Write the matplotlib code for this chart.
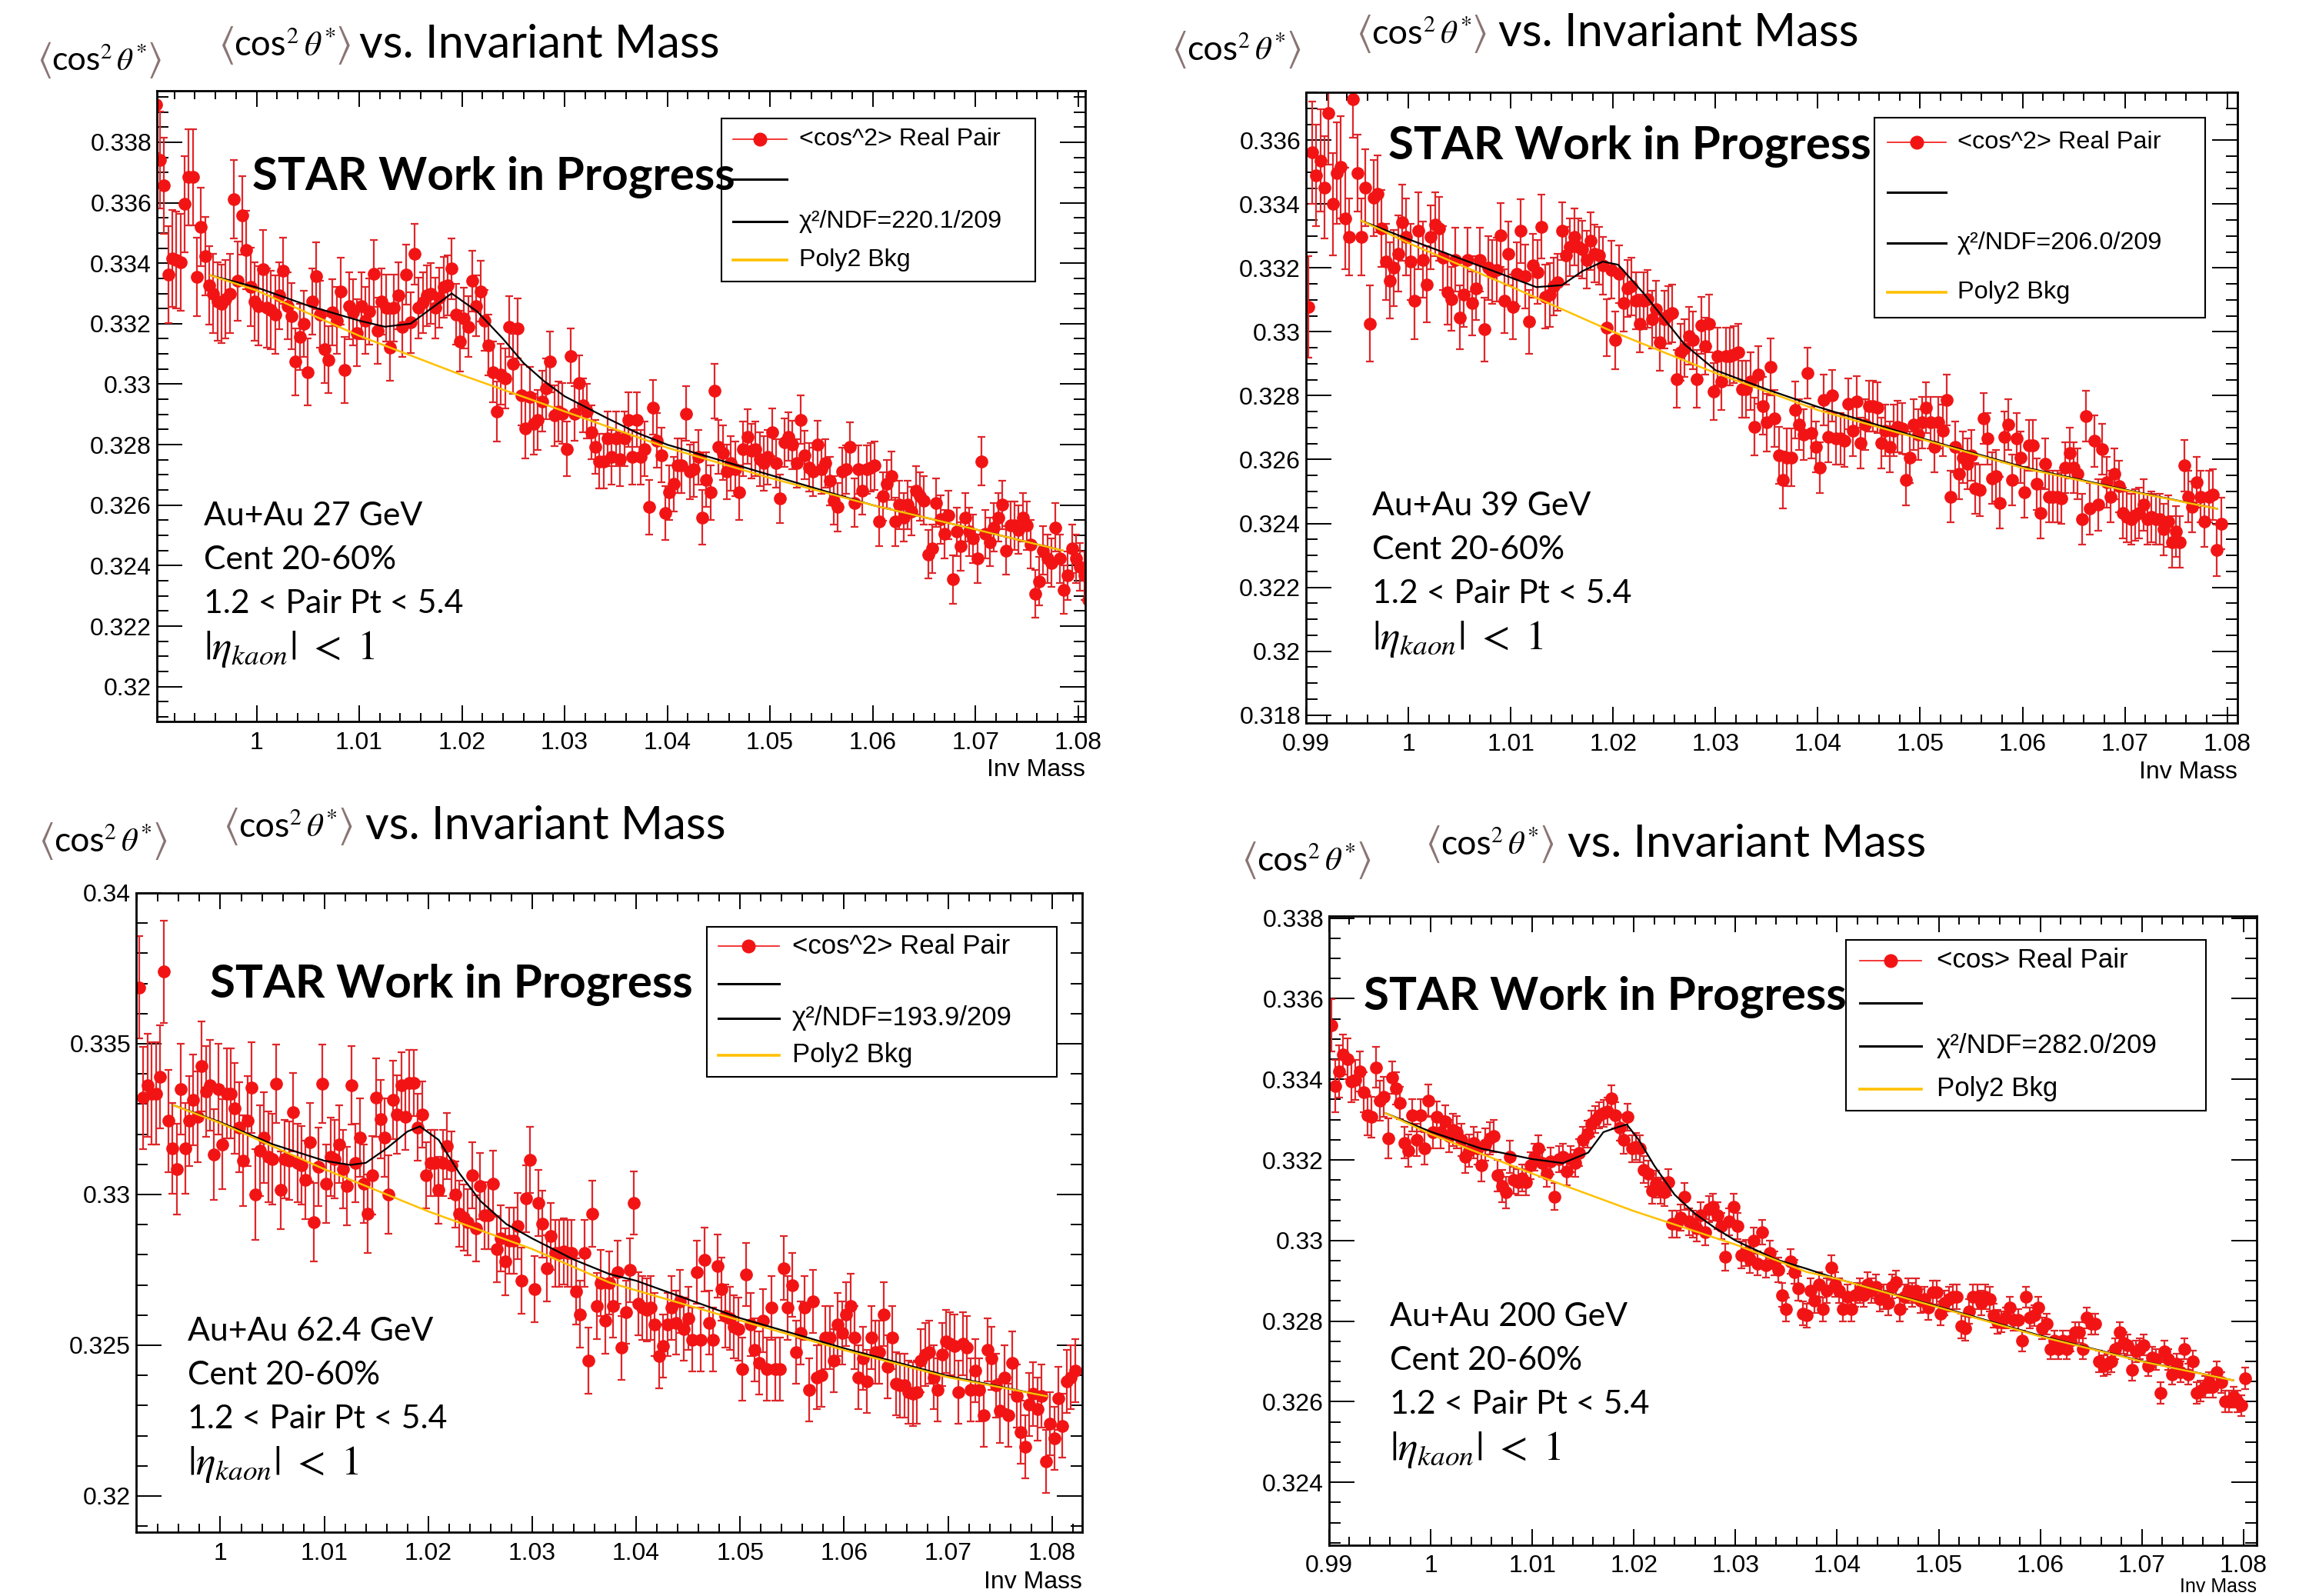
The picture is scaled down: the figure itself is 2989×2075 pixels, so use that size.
import numpy as np
import matplotlib
matplotlib.use("Agg")
import matplotlib.pyplot as plt
from matplotlib.ticker import FixedLocator, MultipleLocator, FuncFormatter
from matplotlib.patches import Rectangle
from matplotlib.lines import Line2D

plt.rcParams['mathtext.fontset'] = 'stix'
plt.rcParams['font.family'] = ['Liberation Sans', 'DejaVu Sans']

# ------------------------------------------------------------------ data
BIN_W = 0.0004

# ---- Au+Au 27 GeV
x0_27 = 0.9902
vals_27 = [
    0.33923, 0.33741, 0.33656, 0.33362, 0.33416, 0.33410, 0.33403, 0.33595, 0.33684, 0.33684,
    0.33355, 0.33519, 0.33423, 0.33327, 0.33300, 0.33273, 0.33266, 0.33280, 0.33300, 0.33611,
    0.33341, 0.33558, 0.33444, 0.33321, 0.33273, 0.33259, 0.33379, 0.33252, 0.33245, 0.33231,
    0.33293, 0.33375, 0.33259, 0.33225, 0.33074, 0.33156, 0.33200, 0.33040, 0.33273, 0.33358,
    0.33231, 0.33115, 0.33081, 0.33238, 0.33211, 0.33307, 0.33047, 0.33259, 0.33238, 0.33170,
    0.33259, 0.33211, 0.33240, 0.33366, 0.33177, 0.33273, 0.33252, 0.33122, 0.33252, 0.33293,
    0.33190, 0.33362, 0.33204, 0.33430, 0.33252, 0.33270, 0.33293, 0.33300, 0.33252, 0.33286,
    0.33321, 0.33327, 0.33382, 0.33231, 0.33142, 0.33218, 0.33190, 0.33341, 0.33259, 0.33307,
    0.33211, 0.33129, 0.33040, 0.32910, 0.33033, 0.33019, 0.33190, 0.33067, 0.33184, 0.32964,
    0.32855, 0.32957, 0.32868, 0.32882, 0.32944, 0.32985, 0.33074, 0.32896, 0.32910, 0.32903,
    0.32786, 0.33094, 0.32903, 0.33005, 0.32930, 0.32910, 0.32841, 0.32793, 0.32745, 0.32745,
    0.32820, 0.32759, 0.32820, 0.32752, 0.32820, 0.32882, 0.32759,
    0.32882, 0.32759, 0.32786, 0.32594, 0.32923, 0.32814, 0.32766, 0.32574, 0.32642, 0.32670,
    0.32731, 0.32731, 0.32903, 0.32711, 0.32718, 0.32759, 0.32560, 0.32684, 0.32642, 0.32978,
    0.32793, 0.32773, 0.32711, 0.32739, 0.32720, 0.32642, 0.32786, 0.32827, 0.32779, 0.32786,
    0.32752, 0.32739, 0.32759, 0.32841, 0.32739, 0.32622, 0.32807, 0.32827, 0.32800, 0.32739,
    0.32882, 0.32766, 0.32725, 0.32711, 0.32800, 0.32718, 0.32739, 0.32680, 0.32615, 0.32594,
    0.32711, 0.32718, 0.32793, 0.32608, 0.32718, 0.32649, 0.32718, 0.32725, 0.32731, 0.32546,
    0.32629, 0.32670, 0.32697, 0.32546, 0.32601, 0.32560, 0.32601, 0.32580, 0.32649, 0.32629,
    0.32615, 0.32437, 0.32457, 0.32608, 0.32553, 0.32505, 0.32567, 0.32355, 0.32512, 0.32464,
    0.32560, 0.32512, 0.32490, 0.32423, 0.32745, 0.32505, 0.32478, 0.32526, 0.32560, 0.32601,
    0.32450, 0.32533, 0.32533, 0.32519, 0.32560, 0.32533, 0.32470, 0.32307, 0.32348, 0.32450,
    0.32423, 0.32409, 0.32526, 0.32423, 0.32321, 0.32368, 0.32457, 0.32423, 0.32396, 0.32368,
    0.32286]
err_lv_27 = [0.0016, 0.0013, 0.0011, 0.0010, 0.0009, 0.0008]
err_n_27 = [10, 20, 30, 40, 50, 90]
fitx_27 = [0.9955, 1.000, 1.005, 1.010, 1.0125, 1.015, 1.017, 1.019, 1.0215, 1.024,
           1.026, 1.028, 1.030, 1.034, 1.037, 1.040, 1.050, 1.060, 1.070, 1.0785]
fit_27 = [0.3336, 0.3332, 0.3326, 0.3321, 0.3319, 0.3320, 0.3325, 0.3330, 0.3324, 0.3315,
          0.3307, 0.3301, 0.3296, 0.3289, 0.3284, 0.3280, 0.3270, 0.3260, 0.3252, 0.3245]
bkgx_27 = [0.9955, 1.000, 1.010, 1.020, 1.030, 1.040, 1.050, 1.060, 1.070, 1.0785]
bkg_27 = [0.3336, 0.3331, 0.3316, 0.3303, 0.3291, 0.3279, 0.3269, 0.3260, 0.3252, 0.3245]

# ---- Au+Au 39 GeV
x0_39 = 0.9902
vals_39 = [
    0.33078, 0.33561, 0.33490, 0.33536, 0.33452, 0.33684, 0.33400, 0.33497, 0.33516, 0.33355,
    0.33297, 0.33729, 0.33497, 0.33297, 0.33452, 0.33026, 0.33419, 0.33432, 0.33323, 0.33219,
    0.33161, 0.33200, 0.33245, 0.33342, 0.33297, 0.33219, 0.33097, 0.33316, 0.33226, 0.33149,
    0.33297, 0.33336, 0.33323, 0.33232, 0.33123, 0.33103, 0.33226, 0.33045, 0.33116, 0.33226,
    0.33090, 0.33136, 0.33226, 0.33007, 0.33200, 0.33187, 0.33194, 0.33303, 0.33097, 0.33245,
    0.33078, 0.33181, 0.33316, 0.33174, 0.33032, 0.33207, 0.33187, 0.33329, 0.33110, 0.33116,
    0.33142, 0.33155, 0.33316, 0.33239, 0.33265, 0.33297, 0.33265, 0.33258, 0.33226, 0.33284,
    0.33245, 0.33239, 0.33207, 0.33013, 0.33194, 0.32974, 0.33181, 0.33090, 0.33136, 0.33142,
    0.33097, 0.33026, 0.33097, 0.33103, 0.33039, 0.33071, 0.32968, 0.33039, 0.33052, 0.33058,
    0.32852, 0.32936, 0.32949, 0.32987, 0.32974, 0.32852, 0.33020, 0.32955, 0.33026, 0.32813,
    0.32923, 0.32845, 0.32923, 0.32923, 0.32929, 0.32936, 0.32820, 0.32820, 0.32845, 0.32703,
    0.32865, 0.32768, 0.32716, 0.32890, 0.32729, 0.32613, 0.32536,
    0.32607, 0.32607, 0.32755, 0.32710, 0.32678, 0.32871, 0.32684, 0.32639, 0.32574, 0.32787,
    0.32671, 0.32800, 0.32665, 0.32665, 0.32658, 0.32774, 0.32691, 0.32781, 0.32652, 0.32710,
    0.32768, 0.32768, 0.32762, 0.32652, 0.32691, 0.32639, 0.32691, 0.32703, 0.32697, 0.32536,
    0.32607, 0.32710, 0.32678, 0.32716, 0.32762, 0.32716, 0.32639, 0.32716, 0.32691, 0.32787,
    0.32484, 0.32639, 0.32555, 0.32607, 0.32587, 0.32613, 0.32510, 0.32504, 0.32729, 0.32665,
    0.32542, 0.32549, 0.32465, 0.32671, 0.32710, 0.32536, 0.32665, 0.32607, 0.32497, 0.32645,
    0.32645, 0.32523, 0.32433, 0.32587, 0.32484, 0.32484, 0.32484, 0.32478, 0.32574, 0.32620,
    0.32574, 0.32555, 0.32413, 0.32736, 0.32446, 0.32658, 0.32458, 0.32633, 0.32529, 0.32484,
    0.32555, 0.32516, 0.32433, 0.32420, 0.32413, 0.32426, 0.32433, 0.32458, 0.32413, 0.32420,
    0.32413, 0.32413, 0.32381, 0.32407, 0.32342, 0.32375, 0.32342, 0.32581, 0.32484, 0.32452,
    0.32529, 0.32484, 0.32407, 0.32484, 0.32491, 0.32316, 0.32400]
err_lv_39 = [0.0016, 0.0012, 0.0010, 0.0009, 0.0008]
err_n_39 = [10, 20, 30, 60, 120]
fitx_39 = [0.9954, 1.000, 1.005, 1.010, 1.0125, 1.015, 1.017, 1.019, 1.0205, 1.023,
           1.025, 1.027, 1.030, 1.035, 1.040, 1.050, 1.060, 1.070, 1.079]
fit_39 = [0.33348, 0.3329, 0.3323, 0.3317, 0.3314, 0.33146, 0.3319, 0.3322, 0.3321, 0.3312,
          0.3304, 0.3296, 0.3288, 0.3282, 0.32765, 0.32668, 0.32577, 0.32506, 0.32446]
bkgx_39 = [0.9954, 1.000, 1.010, 1.020, 1.030, 1.040, 1.050, 1.060, 1.070, 1.079]
bkg_39 = [0.33348, 0.33278, 0.33142, 0.33000, 0.32871, 0.32755, 0.32665, 0.32574, 0.32504, 0.32446]

# ---- Au+Au 62.4 GeV
x0_62 = 0.9922
vals_62 = [
    0.33687, 0.33321, 0.33362, 0.33335, 0.33335, 0.33390, 0.33739, 0.33244, 0.33153, 0.33084,
    0.33349, 0.33153, 0.33244, 0.33314, 0.33258, 0.33425, 0.33342, 0.33362, 0.33132, 0.33349,
    0.33167, 0.33335, 0.33335, 0.33286, 0.33223, 0.33112, 0.33244, 0.33355, 0.33000, 0.33146,
    0.33188, 0.33125, 0.33118, 0.33367, 0.33014, 0.33118, 0.33112, 0.33272, 0.33105, 0.33098,
    0.33049, 0.33174, 0.32909, 0.33091, 0.33367, 0.33035, 0.33125, 0.33118, 0.33167, 0.33084,
    0.33028, 0.33362, 0.33105, 0.33188, 0.33035, 0.32937, 0.33063, 0.33321, 0.33251, 0.33188,
    0.33000, 0.33314, 0.33265, 0.33362, 0.33258, 0.33369, 0.33369, 0.33223, 0.33265, 0.33063,
    0.33105, 0.33105, 0.33014, 0.33105, 0.33160, 0.33098, 0.33000, 0.32937, 0.32923, 0.32909,
    0.33063, 0.32888, 0.33028, 0.32930, 0.32930, 0.33035, 0.32819, 0.32854, 0.32777, 0.32847,
    0.32847, 0.32895, 0.32714, 0.32986, 0.33114, 0.32686, 0.32972, 0.32902, 0.32756, 0.32861,
    0.32805, 0.32805, 0.32812, 0.32805, 0.32805, 0.32679, 0.32603, 0.32805, 0.32449, 0.32937,
    0.32631, 0.32707, 0.32582, 0.32707,
    0.32631, 0.32742, 0.32491, 0.32610, 0.32749, 0.32972, 0.32638, 0.32624, 0.32617, 0.32624,
    0.32568, 0.32463, 0.32498, 0.32568, 0.32624, 0.32575, 0.32645, 0.32554, 0.32589, 0.32519,
    0.32742, 0.32519, 0.32784, 0.32575, 0.32519, 0.32763, 0.32686, 0.32596, 0.32589, 0.32561,
    0.32554, 0.32421, 0.32735, 0.32568, 0.32484, 0.32442, 0.32582, 0.32421, 0.32624, 0.32421,
    0.32421, 0.32756, 0.32624, 0.32700, 0.32477, 0.32540, 0.32624, 0.32352, 0.32645, 0.32394,
    0.32401, 0.32526, 0.32526, 0.32449, 0.32568, 0.32540, 0.32603, 0.32631, 0.32526, 0.32394,
    0.32456, 0.32380, 0.32526, 0.32477, 0.32477, 0.32603, 0.32428, 0.32526, 0.32373, 0.32366,
    0.32366, 0.32345, 0.32338, 0.32345, 0.32449, 0.32470, 0.32477, 0.32394, 0.32352, 0.32470,
    0.32512, 0.32505, 0.32498, 0.32345, 0.32505, 0.32491, 0.32352, 0.32415, 0.32352, 0.32268,
    0.32484, 0.32456, 0.32366, 0.32282, 0.32394, 0.32268, 0.32442, 0.32331, 0.32212, 0.32164,
    0.32303, 0.32338, 0.32289, 0.32331, 0.32115, 0.32240, 0.32192, 0.32324, 0.32233, 0.32380,
    0.32394, 0.32415]
err_lv_62 = [0.0017, 0.0015, 0.0013, 0.0011, 0.00105]
err_n_62 = [8, 25, 30, 50, 130]
fitx_62 = [0.9955, 1.000, 1.005, 1.010, 1.0125, 1.014, 1.016, 1.018, 1.0192, 1.021,
           1.023, 1.025, 1.0275, 1.030, 1.034, 1.0375, 1.040, 1.050, 1.060, 1.070, 1.0795]
fit_62 = [0.33296, 0.3324, 0.33167, 0.33112, 0.33098, 0.33105, 0.33153, 0.33209, 0.33226, 0.33181,
          0.3307, 0.32979, 0.32902, 0.32854, 0.32784, 0.32735, 0.32714, 0.32590, 0.32490, 0.32398, 0.32331]
bkgx_62 = [0.9955, 1.000, 1.010, 1.020, 1.030, 1.0375, 1.050, 1.060, 1.070, 1.0795]
bkg_62 = [0.33296, 0.33237, 0.33084, 0.32944, 0.32819, 0.32707, 0.32582, 0.32484, 0.32394, 0.32331]

# ---- Au+Au 200 GeV
x0_200 = 0.9902
vals_200 = [
    0.33534, 0.33383, 0.33420, 0.33461, 0.33451, 0.33394, 0.33399, 0.33420, 0.33368, 0.33311,
    0.33306, 0.33430, 0.33347, 0.33357, 0.33254, 0.33404, 0.33378, 0.33342, 0.33243, 0.33223,
    0.33311, 0.33249, 0.33311, 0.33228, 0.33347, 0.33269, 0.33306, 0.33269, 0.33295, 0.33259,
    0.33275, 0.33269, 0.33249, 0.33207, 0.33223, 0.33243, 0.33228, 0.33186, 0.33238, 0.33254,
    0.33259, 0.33161, 0.33135, 0.33119, 0.33207, 0.33150, 0.33145, 0.33155, 0.33145, 0.33186,
    0.33207, 0.33228, 0.33192, 0.33166, 0.33197, 0.33109, 0.33202, 0.33207, 0.33171, 0.33202,
    0.33192, 0.33218, 0.33249, 0.33264, 0.33290, 0.33300, 0.33311, 0.33316, 0.33321, 0.33352,
    0.33311, 0.33280, 0.33249, 0.33306, 0.33228, 0.33233, 0.33228, 0.33176, 0.33166, 0.33124,
    0.33140, 0.33124, 0.33119, 0.33145, 0.33041, 0.33041, 0.33057, 0.33109, 0.33047, 0.33041,
    0.33031, 0.33062, 0.33021, 0.33078, 0.33083, 0.33062, 0.33036, 0.32959, 0.33047, 0.33083,
    0.33036, 0.32964, 0.32969, 0.32953, 0.33000, 0.32943, 0.33021, 0.32938, 0.32969, 0.32943,
    0.32927, 0.32865, 0.32829, 0.32948, 0.32922, 0.32881, 0.32819,
    0.32814, 0.32876, 0.32850, 0.32891, 0.32829, 0.32876, 0.32933, 0.32891, 0.32876, 0.32829,
    0.32860, 0.32829, 0.32865, 0.32876, 0.32865, 0.32891, 0.32876, 0.32886, 0.32855, 0.32860,
    0.32845, 0.32886, 0.32896, 0.32829, 0.32860, 0.32876, 0.32865, 0.32876, 0.32850, 0.32855,
    0.32834, 0.32871, 0.32871, 0.32819, 0.32845, 0.32855, 0.32860, 0.32860, 0.32788, 0.32782,
    0.32824, 0.32860, 0.32860, 0.32845, 0.32860, 0.32855, 0.32814, 0.32798, 0.32798, 0.32808,
    0.32834, 0.32803, 0.32803, 0.32751, 0.32860, 0.32808, 0.32814, 0.32834, 0.32782, 0.32793,
    0.32731, 0.32751, 0.32731, 0.32751, 0.32731, 0.32751, 0.32772, 0.32772, 0.32731, 0.32808,
    0.32793, 0.32793, 0.32700, 0.32689, 0.32694, 0.32700, 0.32731, 0.32772, 0.32746, 0.32741,
    0.32679, 0.32725, 0.32731, 0.32741, 0.32689, 0.32710, 0.32705, 0.32622, 0.32725, 0.32705,
    0.32668, 0.32694, 0.32674, 0.32731, 0.32668, 0.32700, 0.32622, 0.32627, 0.32637, 0.32648,
    0.32637, 0.32674, 0.32648, 0.32601, 0.32601, 0.32612, 0.32601, 0.32591, 0.32658]
err_lv_200 = [0.00065, 0.0005, 0.0004, 0.00033, 0.0003, 0.00026]
err_n_200 = [3, 12, 30, 60, 60, 80]
fitx_200 = [0.99556, 1.000, 1.005, 1.010, 1.013, 1.0155, 1.017, 1.0185, 1.0193, 1.0205, 1.022,
            1.024, 1.026, 1.028, 1.030, 1.034, 1.037, 1.040, 1.050, 1.060, 1.070, 1.079]
fit_200 = [0.33316, 0.3327, 0.33228, 0.33202, 0.33192, 0.33218, 0.33269, 0.33282, 0.33288, 0.33249,
           0.33186, 0.33114, 0.33067, 0.33031, 0.33000, 0.32953, 0.32930, 0.32905, 0.32836, 0.32764,
           0.32701, 0.32653]
bkgx_200 = [0.99556, 1.000, 1.010, 1.020, 1.030, 1.037, 1.040, 1.050, 1.060, 1.070, 1.079]
bkg_200 = [0.33316, 0.33264, 0.33166, 0.33073, 0.32990, 0.32922, 0.32905, 0.32834, 0.32762, 0.32700, 0.32653]

# tick labels / text
xticks_all = [0.99, 1.00, 1.01, 1.02, 1.03, 1.04, 1.05, 1.06, 1.07, 1.08]
yticks_27 = [0.320, 0.322, 0.324, 0.326, 0.328, 0.330, 0.332, 0.334, 0.336, 0.338]
yticks_39 = [0.318, 0.320, 0.322, 0.324, 0.326, 0.328, 0.330, 0.332, 0.334, 0.336]
yticks_62 = [0.320, 0.325, 0.330, 0.335, 0.340]
yticks_200 = [0.324, 0.326, 0.328, 0.330, 0.332, 0.334, 0.336, 0.338]
energies = ["Au+Au 27 GeV", "Au+Au 39 GeV", "Au+Au 62.4 GeV", "Au+Au 200 GeV"]
chi_texts = ["χ²/NDF=220.1/209", "χ²/NDF=206.0/209", "χ²/NDF=193.9/209", "χ²/NDF=282.0/209"]
first_labels = ["<cos^2> Real Pair", "<cos^2> Real Pair", "<cos^2> Real Pair", "<cos> Real Pair"]

# ------------------------------------------------------------------ figure
W, H = 2989, 2075
fig = plt.figure(figsize=(W / 100, H / 100), dpi=100)
fig.patch.set_facecolor('white')
R = fig.canvas.get_renderer()

RED = '#f21414'
RED_E = '#e0262a'
YEL = '#ffc000'
GRAY = '#8a7474'
CAL = ['Lato', 'DejaVu Sans']


def fx(x):
    return x / W


def fy(y):
    return 1 - y / H


def text_width(s, size, **kw):
    t = fig.text(0, 0, s, fontsize=size, **kw)
    w = t.get_window_extent(R).width
    t.remove()
    return w


def fit_size(s, target, **kw):
    return 10.0 * target / text_width(s, 10.0, **kw)


def seq_text(x, ybase, pieces):
    arts = []
    for s, kw in pieces:
        kw = dict(kw)
        dy = kw.pop('dy', 0)
        t = fig.text(fx(x), fy(ybase - dy), s, ha='left', va='baseline', **kw)
        bb = t.get_window_extent(R)
        x = bb.x1
        arts.append(t)
    return arts, x


def cos_pieces(S):
    return [(r'$\langle$', dict(fontsize=S * 1.25, color=GRAY)),
            ('cos', dict(fontsize=S * 1.05, family=CAL, color='k')),
            (r'${}^{2}\,\theta^{*}$', dict(fontsize=S, color='k')),
            (r'$\rangle$', dict(fontsize=S * 1.25, color=GRAY))]


def cos_label(xleft, ycen, target_w):
    arts, xe = seq_text(0, 500, cos_pieces(30))
    w = xe - arts[0].get_window_extent(R).x0
    for a in arts:
        a.remove()
    S = 30 * target_w / w
    ybase = ycen + 0.33 * S * 100 / 72
    seq_text(xleft, ybase, cos_pieces(S))


def fmt(v, pos):
    s = ('%.4f' % v).rstrip('0').rstrip('.')
    return s


panels = [
    dict(rect=(204, 118, 1411, 938), xlim=(0.9903, 1.0807), ylim=(0.31885, 0.3397),
         x0=x0_27, vals=vals_27, elv=err_lv_27, en=err_n_27,
         fitx=fitx_27, fit=fit_27, bkgx=bkgx_27, bkg=bkg_27, yt=yticks_27, ymin=0.0005,
         ylab=(48, 77, 162), tmath=(284, 58, 172), tvs=(467, 467),
         star=(328, 231), ann=(265, [671, 728, 785, 844]),
         leg=dict(box=(938, 1346, 154, 366), rows=[181, 233, 288, 338], line=(953, 1023), tx=1039, lw=262),
         invy=1001, invs=23),
    dict(rect=(1698, 120, 2909, 940), xlim=(0.9900, 1.0810), ylim=(0.31775, 0.3375),
         x0=x0_39, vals=vals_39, elv=err_lv_39, en=err_n_39,
         fitx=fitx_39, fit=fit_39, bkgx=bkgx_39, bkg=bkg_39, yt=yticks_39, ymin=0.0005,
         ylab=(1523, 64, 168), tmath=(1763, 43, 170), tvs=(1948, 467),
         star=(1805, 191), ann=(1784, [658, 715, 772, 831]),
         leg=dict(box=(2437, 2867, 153, 413), rows=[185, 250, 316, 380], line=(2454, 2530), tx=2545, lw=265),
         invy=1004, invs=23),
    dict(rect=(177, 1161, 1407, 1992), xlim=(0.9919, 1.0829), ylim=(0.3188, 0.3400),
         x0=x0_62, vals=vals_62, elv=err_lv_62, en=err_n_62,
         fitx=fitx_62, fit=fit_62, bkgx=bkgx_62, bkg=bkg_62, yt=yticks_62, ymin=0.001,
         ylab=(50, 1093, 167), tmath=(290, 1074, 169), tvs=(475, 467),
         star=(273, 1281), ann=(244, [1731, 1788, 1845, 1904]),
         leg=dict(box=(919, 1374, 1205, 1400), rows=[1230, 1279, 1324, 1372], line=(934, 1013), tx=1030, lw=284),
         invy=2057, invs=23),
    dict(rect=(1728, 1191, 2934, 2009), xlim=(0.9900, 1.0813), ylim=(0.32244, 0.33805),
         x0=x0_200, vals=vals_200, elv=err_lv_200, en=err_n_200,
         fitx=fitx_200, fit=fit_200, bkgx=bkgx_200, bkg=bkg_200, yt=yticks_200, ymin=0.0005,
         ylab=(1614, 1118, 168), tmath=(1853, 1097, 167), tvs=(2038, 465),
         star=(1773, 1296), ann=(1807, [1712, 1769, 1826, 1885]),
         leg=dict(box=(2400, 2868, 1222, 1444), rows=[1249, 1304, 1360, 1416], line=(2418, 2498), tx=2518, lw=248),
         invy=2063, invs=18),
]

for i, p in enumerate(panels):
    l, t, r, b = p['rect']
    ax = fig.add_axes([fx(l), fy(b), (r - l) / W, (b - t) / H])
    vals = np.array(p['vals'])
    x = p['x0'] + BIN_W * np.arange(len(vals))
    err = np.repeat(p['elv'], p['en'])[:len(vals)]
    ax.errorbar(x, vals, yerr=err, fmt='o', ms=11, color=RED, mfc=RED, mec=RED,
                ecolor=RED_E, elinewidth=1.6, capsize=3.3, capthick=1.6, zorder=2)
    ax.plot(p['fitx'], p['fit'], color='k', lw=1.6, zorder=3)
    ax.plot(p['bkgx'], p['bkg'], color=YEL, lw=1.8, zorder=4)
    ax.set_xlim(*p['xlim'])
    ax.set_ylim(*p['ylim'])
    ax.xaxis.set_major_locator(FixedLocator(xticks_all))
    ax.xaxis.set_minor_locator(MultipleLocator(0.002))
    ax.yaxis.set_major_locator(FixedLocator(p['yt']))
    ax.yaxis.set_minor_locator(MultipleLocator(p['ymin']))
    ax.xaxis.set_major_formatter(FuncFormatter(fmt))
    ax.yaxis.set_major_formatter(FuncFormatter(fmt))
    ax.tick_params(which='both', direction='in', top=True, right=True, width=1.4, colors='k')
    ax.tick_params(axis='x', which='major', length=15, pad=9, labelsize=23)
    ax.tick_params(axis='x', which='minor', length=8)
    ax.tick_params(axis='y', which='major', length=24, pad=5, labelsize=23)
    ax.tick_params(axis='y', which='minor', length=11)
    for sp in ax.spines.values():
        sp.set_linewidth(2.0)
    # x label
    fig.text(fx(r), fy(p['invy']), 'Inv Mass', ha='right', va='center', fontsize=p['invs'])

    # y label and title
    cos_label(p['ylab'][0], p['ylab'][1], p['ylab'][2])
    cos_label(p['tmath'][0], p['tmath'][1], p['tmath'][2])
    vs = 'vs. Invariant Mass'
    fig.text(fx(p['tvs'][0]), fy(p['tmath'][1]), vs, ha='left', va='center',
             fontsize=fit_size(vs, p['tvs'][1], family=CAL), family=CAL)

    # STAR label
    st = 'STAR Work in Progress'
    fig.text(fx(p['star'][0]), fy(p['star'][1]), st, ha='left', va='center', family=CAL,
             weight='bold', fontsize=fit_size(st, 629, family=CAL, weight='bold'), zorder=20)

    # annotation
    ax0, ys = p['ann']
    ref = '1.2 < Pair Pt < 5.4'
    asz = fit_size(ref, 337, family=CAL)
    for s, yy in zip([energies[i], 'Cent 20-60%', ref], ys[:3]):
        fig.text(fx(ax0), fy(yy), s, ha='left', va='center', family=CAL, fontsize=asz)
    eta = r'$|\eta_{kaon}|\ <\ 1$'
    fig.text(fx(ax0), fy(ys[3]), eta, ha='left', va='center', fontsize=fit_size(eta, 228))

    # legend
    lg = p['leg']
    x0b, x1b, y0b, y1b = lg['box']
    fig.add_artist(Rectangle((fx(x0b), fy(y1b)), (x1b - x0b) / W, (y1b - y0b) / H,
                             transform=fig.transFigure, facecolor='white', edgecolor='k',
                             lw=1.5, zorder=10))
    lsz = fit_size(first_labels[i], lg['lw'])
    la, lb = lg['line']
    rows = lg['rows']
    fig.add_artist(Line2D([fx(la), fx(lb)], [fy(rows[0])] * 2, transform=fig.transFigure,
                          color=RED, lw=1.2, zorder=11))
    fig.add_artist(Line2D([fx((la + lb) / 2)], [fy(rows[0])], transform=fig.transFigure,
                          marker='o', ms=12, color=RED, zorder=12))
    fig.add_artist(Line2D([fx(la), fx(lb)], [fy(rows[1])] * 2, transform=fig.transFigure,
                          color='k', lw=2.2, zorder=11))
    fig.add_artist(Line2D([fx(la), fx(lb)], [fy(rows[2])] * 2, transform=fig.transFigure,
                          color='k', lw=2.2, zorder=11))
    fig.add_artist(Line2D([fx(la), fx(lb)], [fy(rows[3])] * 2, transform=fig.transFigure,
                          color=YEL, lw=2.6, zorder=11))
    for s, yy in zip([first_labels[i], chi_texts[i], 'Poly2 Bkg'], [rows[0], rows[2], rows[3]]):
        fig.text(fx(lg['tx']), fy(yy), s, ha='left', va='center', fontsize=lsz, zorder=12)

fig.savefig('out.png', dpi=100, facecolor='white')
